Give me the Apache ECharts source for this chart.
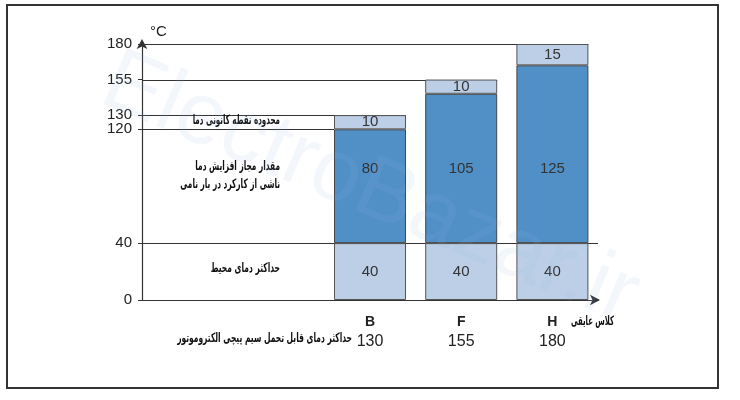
<!DOCTYPE html>
<html>
<head>
<meta charset="utf-8">
<script src="https://cdn.jsdelivr.net/npm/echarts@6/dist/echarts.min.js"></script>
<style>html,body{margin:0;padding:0;background:#fff;}#c{width:740px;height:400px;}</style>
</head>
<body>
<div id="c"></div>
<script>
// ---- data ----
const classes = ['B', 'F', 'H'];
const maxTemps = [130, 155, 180];          // max winding temperature per class
const ambient = [40, 40, 40];              // max ambient temperature
const rise = [80, 105, 125];               // allowed temperature rise
const hotspot = [10, 10, 15];              // hot-spot margin
const yTicks = [0, 40, 120, 130, 155, 180];
const leadBlanks = 2;                      // empty category slots on the left (label area)

const cats = Array(leadBlanks).fill('').concat(classes);
const pad = arr => Array(leadBlanks).fill(null).concat(arr);

const LIGHT = '#bccfe7';
const DARK = '#5190c7';
const BAR_W = 72;

// reference lines: [categoryIndex, value, mode]  mode: 1 -> to bar right edge, -1 -> to bar left edge, 0 -> full width
const refLines = [];
maxTemps.forEach((t, i) => refLines.push([leadBlanks + i, t, 1]));
refLines.push([leadBlanks, ambient[0] + rise[0], -1]);
refLines.push([leadBlanks + classes.length - 1, ambient[0], 0]);

const faFont = 'bold 13px "DejaVu Sans"';
function faText(x, y, text, sx) {
  return {
    type: 'text', silent: true, z: 100, x: x, y: y, scaleX: sx, originX: 0,
    style: { text: text, font: faFont, fill: '#111', align: 'right', verticalAlign: 'middle', lineHeight: 18 }
  };
}

const chart = echarts.init(document.getElementById('c'));
chart.setOption({
  backgroundColor: '#fff',
  animation: false,
  grid: { left: 142, right: 142, top: 44, bottom: 100 },
  xAxis: {
    type: 'category',
    data: cats,
    boundaryGap: true,
    axisLine: { lineStyle: { color: '#333', width: 1.2 }, symbol: ['none', 'arrow'], symbolSize: [8, 10], symbolOffset: [0, 2] },
    axisTick: { show: false },
    axisLabel: {
      margin: 12,
      interval: 0,
      formatter: (v, i) => {
        if (i < leadBlanks) return '';
        return '{a|' + v + '}\n{b|' + maxTemps[i - leadBlanks] + '}';
      },
      rich: {
        a: { fontFamily: 'Liberation Sans', fontWeight: 'bold', fontSize: 14, color: '#222', lineHeight: 20 },
        b: { fontFamily: 'Liberation Sans', fontSize: 16, color: '#222', lineHeight: 20 }
      }
    }
  },
  yAxis: {
    type: 'value',
    min: 0, max: 180,
    name: '°C',
    nameLocation: 'end',
    nameGap: 12,
    nameTextStyle: { fontFamily: 'Liberation Sans', fontSize: 15, color: '#222', align: 'left', verticalAlign: 'middle', padding: [0, 0, 0, 8] },
    splitLine: { show: false },
    axisLine: { show: true, lineStyle: { color: '#333', width: 1.2 }, symbol: ['none', 'arrow'], symbolSize: [8, 10], symbolOffset: [0, 5] },
    axisTick: { show: true, length: 4, customValues: yTicks, lineStyle: { color: '#333' } },
    axisLabel: { customValues: yTicks, fontFamily: 'Liberation Sans', fontSize: 15, color: '#222', margin: 10 }
  },
  series: [
    {
      type: 'custom',
      z: 1,
      silent: true,
      data: refLines,
      encode: { x: 0, y: 1 },
      renderItem: (params, api) => {
        const cat = api.value(0), v = api.value(1), mode = api.value(2);
        const p = api.coord([cat, v]);
        const cs = params.coordSys;
        const x1 = mode === 0 ? cs.x + cs.width : p[0] + mode * BAR_W / 2;
        return {
          type: 'line',
          shape: { x1: cs.x, y1: Math.round(p[1]) + 0.5, x2: x1, y2: Math.round(p[1]) + 0.5 },
          style: { stroke: '#333', lineWidth: 1 }
        };
      }
    },
    {
      type: 'bar', stack: 't', z: 2, barWidth: BAR_W,
      data: pad(ambient),
      itemStyle: { color: LIGHT, borderColor: '#555', borderWidth: 1 },
      label: { show: true, position: 'inside', fontFamily: 'Liberation Sans', fontSize: 15, color: '#333' }
    },
    {
      type: 'bar', stack: 't', z: 2, barWidth: BAR_W,
      data: pad(rise),
      itemStyle: { color: DARK, borderColor: '#444', borderWidth: 1 },
      label: { show: true, position: 'insideBottom', distance: 67, fontFamily: 'Liberation Sans', fontSize: 15, color: '#333' }
    },
    {
      type: 'bar', stack: 't', z: 2, barWidth: BAR_W,
      data: pad(hotspot),
      itemStyle: { color: LIGHT, borderColor: '#555', borderWidth: 1 },
      label: { show: true, position: 'inside', fontFamily: 'Liberation Sans', fontSize: 15, color: '#333' }
    }
  ],
  graphic: [
    { type: 'rect', silent: true, z: 100, shape: { x: 7, y: 5, width: 711, height: 383 }, style: { fill: 'none', stroke: '#333', lineWidth: 2 } },
    faText(280, 121, 'محدوده نقطه کانونی دما', 0.55),
    faText(280, 176, 'مقدار مجاز افزایش دما\nناشی از کارکرد در بار نامی', 0.57),
    faText(280, 269, 'حداکثر دمای محیط', 0.58),
    faText(352, 339, 'حداکثر دمای قابل تحمل سیم پیچی الکتروموتور', 0.58),
    faText(614, 322, 'کلاس عایقی', 0.53),
    { type: 'text', silent: true, z: 120, x: 370, y: 190, rotation: -0.4, style: { text: 'ElectroBazar.ir', font: '88px "Liberation Sans"', fill: 'rgba(150,180,220,0.11)', align: 'center', verticalAlign: 'middle' } }
  ]
});
</script>
</body>
</html>
